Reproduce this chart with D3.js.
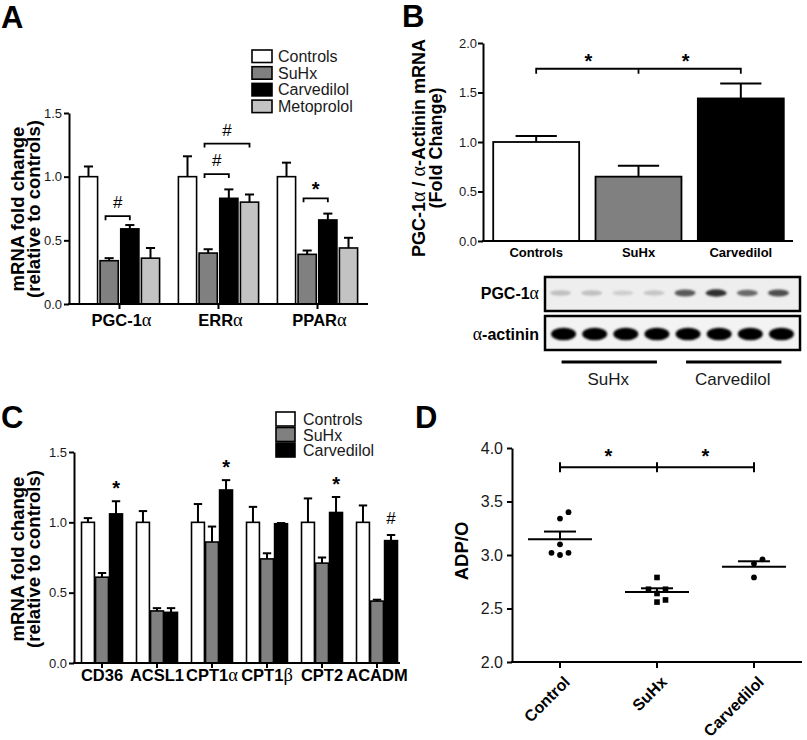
<!DOCTYPE html>
<html><head><meta charset="utf-8">
<script src="https://cdn.jsdelivr.net/npm/d3@7"></script>
<style>
body{margin:0;background:#fff;}
svg{display:block;}
</style></head><body>
<svg id="fig" width="807" height="740"></svg>
<script>
// ---------- Panel A data ----------
const aGenes = ["PGC-1α", "ERRα", "PPARα"];
const aSeries = ["Controls", "SuHx", "Carvedilol", "Metoprolol"];
const aControls = [1.00, 1.00, 1.00];
const aControlsSem = [0.08, 0.16, 0.11];
const aSuHx = [0.34, 0.40, 0.39];
const aSuHxSem = [0.02, 0.03, 0.03];
const aCarvedilol = [0.59, 0.83, 0.66];
const aCarvedilolSem = [0.03, 0.07, 0.05];
const aMetoprolol = [0.36, 0.80, 0.44];
const aMetoprololSem = [0.08, 0.06, 0.08];
const aTicks = [0, 0.5, 1.0, 1.5];
// significance brackets: group, from series, to series, bracket level (value), label
const aSig = [
  {group: "PGC-1α", from: "SuHx", to: "Carvedilol", level: 0.69, label: "#"},
  {group: "ERRα", from: "SuHx", to: "Carvedilol", level: 1.02, label: "#"},
  {group: "ERRα", from: "SuHx", to: "Metoprolol", level: 1.26, label: "#"},
  {group: "PPARα", from: "SuHx", to: "Carvedilol", level: 0.83, label: "*"}
];

// ---------- Panel B data ----------
const bGroups = ["Controls", "SuHx", "Carvedilol"];
const bMean = [1.00, 0.65, 1.44];
const bSem = [0.06, 0.11, 0.15];
const bTicks = [0, 0.5, 1.0, 1.5, 2.0];
const bSigLevel = 1.74;
const bPgcBands = [0.30, 0.30, 0.22, 0.27, 0.75, 0.92, 0.68, 0.80];
const bActininBands = [1, 1, 1, 1, 1, 1, 1, 1];
const bBlotGroups = ["SuHx", "Carvedilol"];

// ---------- Panel C data ----------
const cGenes = ["CD36", "ACSL1", "CPT1α", "CPT1β", "CPT2", "ACADM"];
const cSeries = ["Controls", "SuHx", "Carvedilol"];
const cControls = [1.00, 1.00, 1.00, 1.00, 1.00, 1.00];
const cControlsSem = [0.03, 0.08, 0.13, 0.11, 0.17, 0.12];
const cSuHx = [0.61, 0.37, 0.86, 0.74, 0.71, 0.44];
const cSuHxSem = [0.03, 0.02, 0.11, 0.04, 0.04, 0.01];
const cCarvedilol = [1.06, 0.36, 1.23, 0.99, 1.07, 0.87];
const cCarvedilolSem = [0.09, 0.03, 0.07, 0.005, 0.11, 0.04];
const cSig = ["*", "", "*", "", "*", "#"];
const cTicks = [0, 0.5, 1.0, 1.5];

// ---------- Panel D data ----------
const dGroups = ["Control", "SuHx", "Carvedilol"];
const dControl = [3.40, 3.34, 3.10, 3.02, 3.00, 3.02];
const dSuHx = [2.79, 2.68, 2.68, 2.64, 2.56, 2.58];
const dCarvedilol = [2.96, 2.92, 2.79];
const dTicks = [2.0, 2.5, 3.0, 3.5, 4.0];
const dSigLevel = 3.82;

// ---------- helpers ----------
const FONT = '"Liberation Sans", Arial, Helvetica, sans-serif';
const SERIF = '"Liberation Serif", "Times New Roman", serif';
const svg = d3.select("#fig").style("font-family", FONT);

svg.append("defs").html(
  '<filter id="blurS" x="-50%" y="-50%" width="200%" height="200%"><feGaussianBlur stdDeviation="1.3"/></filter>' +
  '<filter id="blurL" x="-50%" y="-50%" width="200%" height="200%"><feGaussianBlur stdDeviation="0.9"/></filter>');

function greek(sel, text) {
  const parts = text.split(/([αβ])/);
  parts.forEach(p => {
    if (!p) return;
    const t = sel.append("tspan").text(p);
    if (/[αβ]/.test(p)) t.attr("font-family", SERIF).attr("font-weight", "normal").attr("font-size", "1.12em");
  });
  return sel;
}

function yAxis(g, scale, ticks, x, fs, pad) {
  const ax = d3.axisLeft(scale).tickValues(ticks).tickFormat(d3.format(".1f"))
    .tickSize(5).tickSizeOuter(0).tickPadding(pad);
  const a = g.append("g").attr("transform", `translate(${x},0)`).call(ax);
  a.select(".domain").attr("stroke", "#000").attr("stroke-width", 2);
  a.selectAll(".tick line").attr("stroke", "#000").attr("stroke-width", 2);
  a.selectAll(".tick text").attr("fill", "#1a1a1a").style("font-size", fs + "px").style("font-family", FONT);
}

function xAxisLine(g, x0, x1, y, tickXs, tlen) {
  g.append("line").attr("x1", x0 - 1).attr("x2", x1).attr("y1", y).attr("y2", y)
    .attr("stroke", "#000").attr("stroke-width", 2);
  g.selectAll(null).data(tickXs).join("line")
    .attr("x1", d => d).attr("x2", d => d).attr("y1", y).attr("y2", y + tlen)
    .attr("stroke", "#000").attr("stroke-width", 2);
}

function yLabel(g, lines, xs, cy, fs) {
  lines.forEach((t, i) => {
    const txt = g.append("text").attr("transform", `translate(${xs[i]},${cy}) rotate(-90)`)
      .attr("text-anchor", "middle").attr("font-weight", "bold").attr("font-size", fs).attr("fill", "#000");
    greek(txt, t);
  });
}

function groupedBars(g, groups, series, means, sems, colors, x, xin, y, capFrac) {
  series.forEach((s, i) => {
    groups.forEach((grp, j) => {
      const bw = xin.bandwidth();
      const bx = x(grp) + xin(s), cx = bx + bw / 2;
      const top = y(means[i][j]), et = y(means[i][j] + sems[i][j]);
      const cw = bw * capFrac;
      g.append("line").attr("x1", cx).attr("x2", cx).attr("y1", top).attr("y2", et)
        .attr("stroke", "#000").attr("stroke-width", 2);
      g.append("line").attr("x1", cx - cw / 2).attr("x2", cx + cw / 2).attr("y1", et).attr("y2", et)
        .attr("stroke", "#000").attr("stroke-width", 2);
      g.append("rect").attr("x", bx).attr("y", top).attr("width", bw).attr("height", y(0) - top)
        .attr("fill", colors[i]).attr("stroke", "#000").attr("stroke-width", 1.6);
    });
  });
}

function star(g, x, cy, label, fs) {
  const off = label === "*" ? fs * 0.56 : fs * 0.36;
  g.append("text").attr("x", x).attr("y", cy + off).attr("text-anchor", "middle")
    .attr("font-size", fs).attr("font-weight", label === "*" ? "bold" : "normal").attr("fill", "#000").text(label);
}

function panelLetter(t, x, y) {
  svg.append("text").attr("x", x).attr("y", y).attr("font-size", 31).attr("font-weight", "bold").attr("fill", "#000").text(t);
}

// =============== PANEL A ===============
{
  const g = svg.append("g");
  const y = d3.scaleLinear([0, 1.5], [304, 113]);
  const x = d3.scaleBand(aGenes, [69, 368]).paddingInner(0.19).paddingOuter(0.105);
  const xin = d3.scaleBand(aSeries, [0, x.bandwidth()]).paddingInner(0.12);
  const colors = ["#ffffff", "#808080", "#000000", "#c3c3c3"];
  groupedBars(g, aGenes, aSeries,
    [aControls, aSuHx, aCarvedilol, aMetoprolol],
    [aControlsSem, aSuHxSem, aCarvedilolSem, aMetoprololSem], colors, x, xin, y, 0.5);
  yAxis(g, y, aTicks, 69, 13, 2);
  xAxisLine(g, 69, 368, 304, aGenes.map(d => x(d) + x.bandwidth() / 2), 5);
  aGenes.forEach(d => {
    greek(g.append("text").attr("x", x(d) + x.bandwidth() / 2 + 2).attr("y", 326).attr("text-anchor", "middle")
      .attr("font-size", 16.5).attr("font-weight", "bold").attr("fill", "#000"), d);
  });
  yLabel(g, ["mRNA fold change", "(relative to controls)"], [24, 40], 209, 18.5);
  aSig.forEach(s => {
    const x1 = x(s.group) + xin(s.from) + xin.bandwidth() * 0.3;
    const x2 = x(s.group) + xin(s.to) + xin.bandwidth() * 0.5;
    const yy = y(s.level);
    g.append("path").attr("d", `M${x1},${yy + 4}V${yy}H${x2}V${yy + 4}`)
      .attr("fill", "none").attr("stroke", "#000").attr("stroke-width", 1.8);
    star(g, (x1 + x2) / 2, yy - 14, s.label, s.label === "*" ? 20 : 17);
  });
  const lg = g.append("g");
  aSeries.forEach((s, i) => {
    const ly = 50 + i * 16.7;
    lg.append("rect").attr("x", 252).attr("y", ly).attr("width", 20).attr("height", 12.5)
      .attr("fill", colors[i]).attr("stroke", "#000").attr("stroke-width", 1.6);
    lg.append("text").attr("x", 278).attr("y", ly + 12).attr("font-size", 16).attr("fill", "#1a1a1a").text(s);
  });
  panelLetter("A", 1, 28);
}

// =============== PANEL B ===============
{
  const g = svg.append("g");
  const y = d3.scaleLinear([0, 2], [241, 43]);
  const x = d3.scaleBand(bGroups, [484, 793]).paddingInner(0.16).paddingOuter(0.09);
  const colors = ["#ffffff", "#808080", "#000000"];
  bGroups.forEach((grp, j) => {
    const bx = x(grp), bw = x.bandwidth(), cx = bx + bw / 2;
    const top = y(bMean[j]), et = y(bMean[j] + bSem[j]);
    g.append("line").attr("x1", cx).attr("x2", cx).attr("y1", top).attr("y2", et).attr("stroke", "#000").attr("stroke-width", 2);
    g.append("line").attr("x1", cx - bw * 0.24).attr("x2", cx + bw * 0.24).attr("y1", et).attr("y2", et).attr("stroke", "#000").attr("stroke-width", 2);
    g.append("rect").attr("x", bx).attr("y", top).attr("width", bw).attr("height", y(0) - top)
      .attr("fill", colors[j]).attr("stroke", "#000").attr("stroke-width", 1.8);
    g.append("text").attr("x", cx).attr("y", 257).attr("text-anchor", "middle").attr("font-size", 13)
      .attr("font-weight", "bold").attr("fill", "#000").text(grp);
  });
  yAxis(g, y, bTicks, 483, 13, 1);
  xAxisLine(g, 483, 793, 241, [], 0);
  yLabel(g, ["PGC-1α / α-Actinin mRNA", "(Fold Change)"], [425, 442], 148, 18);
  const cxs = bGroups.map(d => x(d) + x.bandwidth() / 2);
  const yy = y(bSigLevel);
  g.append("path").attr("d", `M${cxs[0]},${yy + 5}V${yy}H${cxs[2]}V${yy + 5}M${cxs[1]},${yy}V${yy + 5}`)
    .attr("fill", "none").attr("stroke", "#000").attr("stroke-width", 1.8);
  star(g, (cxs[0] + cxs[1]) / 2 + 1, yy - 12, "*", 20);
  star(g, (cxs[1] + cxs[2]) / 2 - 4, yy - 12, "*", 20);

  // blot
  const lanes = d3.scaleBand(d3.range(8), [548, 797]).paddingInner(0.2).paddingOuter(0.1);
  const bl = svg.append("g");
  bl.append("rect").attr("x", 545).attr("y", 277).attr("width", 255).attr("height", 34)
    .attr("fill", "#eeeeee").attr("stroke", "#000").attr("stroke-width", 2.5);
  bl.append("rect").attr("x", 545).attr("y", 316).attr("width", 255).attr("height", 34)
    .attr("fill", "#f3f3f3").attr("stroke", "#000").attr("stroke-width", 2.5);
  const pgcG = bl.append("g").attr("filter", "url(#blurS)");
  pgcG.selectAll("ellipse").data(bPgcBands).join("ellipse")
    .attr("cx", (d, i) => lanes(i) + lanes.bandwidth() / 2 - 3).attr("cy", 293)
    .attr("rx", 10.5).attr("ry", (d) => 2.2 + d * 1.6)
    .attr("fill", d => d3.interpolateGreys(0.12 + d * 0.8));
  const actG = bl.append("g").attr("filter", "url(#blurL)");
  actG.selectAll("ellipse").data(bActininBands).join("ellipse")
    .attr("cx", (d, i) => lanes(i) + lanes.bandwidth() / 2).attr("cy", 334)
    .attr("rx", 12.5).attr("ry", 6.3)
    .attr("fill", d => d3.interpolateGreys(0.92 * d + 0.08));
  greek(bl.append("text").attr("x", 539).attr("y", 299).attr("text-anchor", "end").attr("font-size", 16)
    .attr("font-weight", "bold").attr("fill", "#000"), "PGC-1α");
  greek(bl.append("text").attr("x", 539).attr("y", 340).attr("text-anchor", "end").attr("font-size", 16)
    .attr("font-weight", "bold").attr("fill", "#000"), "α-actinin");
  bBlotGroups.forEach((gname, k) => {
    const first = lanes(k * 4) + lanes.bandwidth() / 2;
    const last = lanes(k * 4 + 3) + lanes.bandwidth() / 2;
    bl.append("line").attr("x1", first - 2).attr("x2", last).attr("y1", 362).attr("y2", 362)
      .attr("stroke", "#000").attr("stroke-width", 3);
    bl.append("text").attr("x", (first + last) / 2 - 2).attr("y", 385).attr("text-anchor", "middle")
      .attr("font-size", 17).attr("fill", "#1a1a1a").text(gname);
  });
  panelLetter("B", 402, 27);
}

// =============== PANEL C ===============
{
  const g = svg.append("g");
  const y = d3.scaleLinear([0, 1.5], [663, 452]);
  const x = d3.scaleBand(cGenes, [77, 402]).paddingInner(0.255).paddingOuter(0.082);
  const xin = d3.scaleBand(cSeries, [0, x.bandwidth()]).paddingInner(0.08);
  const colors = ["#ffffff", "#808080", "#000000"];
  groupedBars(g, cGenes, cSeries, [cControls, cSuHx, cCarvedilol],
    [cControlsSem, cSuHxSem, cCarvedilolSem], colors, x, xin, y, 0.65);
  yAxis(g, y, cTicks, 74, 13, 2);
  xAxisLine(g, 74, 400, 663, cGenes.map(d => x(d) + x.bandwidth() / 2), 5);
  cGenes.forEach(d => {
    greek(g.append("text").attr("x", x(d) + x.bandwidth() / 2).attr("y", 681).attr("text-anchor", "middle")
      .attr("font-size", 16.5).attr("font-weight", "bold").attr("fill", "#000"), d);
  });
  cSig.forEach((s, j) => {
    if (!s) return;
    const cx = x(cGenes[j]) + xin("Carvedilol") + xin.bandwidth() / 2;
    star(g, cx, y(cCarvedilol[j] + cCarvedilolSem[j]) - 17, s, s === "*" ? 20 : 17);
  });
  yLabel(g, ["mRNA fold change", "(relative to controls)"], [24, 40], 559, 18.5);
  const lg = g.append("g");
  cSeries.forEach((s, i) => {
    const ly = 412 + i * 15.5;
    lg.append("rect").attr("x", 276).attr("y", ly).attr("width", 19).attr("height", 14)
      .attr("fill", colors[i]).attr("stroke", "#000").attr("stroke-width", 1.6);
    lg.append("text").attr("x", 303).attr("y", ly + 13).attr("font-size", 16).attr("fill", "#1a1a1a").text(s);
  });
  panelLetter("C", 1, 428);
}

// =============== PANEL D ===============
{
  const g = svg.append("g");
  const y = d3.scaleLinear([2, 4], [662, 448]);
  const x = d3.scalePoint(dGroups, [560, 754]);
  yAxis(g, y, dTicks, 512, 16, 4);
  xAxisLine(g, 512, 802, 662, dGroups.map(d => x(d)), 6);
  dGroups.forEach(d => {
    g.append("text").attr("transform", `translate(${x(d) + 11},${683}) rotate(-45)`)
      .attr("text-anchor", "end").attr("font-size", 16).attr("font-weight", "bold").attr("fill", "#000").text(d);
  });
  yLabel(g, ["ADP/O"], [468], 551, 18.5);
  const sets = [dControl, dSuHx, dCarvedilol];
  const lanePx = 8.5, minDist = 8;
  sets.forEach((vals, k) => {
    const cx = x(dGroups[k]);
    // simple beeswarm: ascending order, try centre then right then left
    const placed = [];
    vals.slice().sort((a, b) => a - b).forEach(v => {
      const py = y(v);
      for (const o of [0, 1, -1, 2, -2]) {
        const px = cx + o * lanePx;
        if (placed.every(p => Math.hypot(p.x - px, p.y - py) >= minDist)) { placed.push({x: px, y: py}); break; }
      }
    });
    if (k === 1) {
      g.selectAll(null).data(placed).join("rect").attr("x", p => p.x - 2.8).attr("y", p => p.y - 2.8)
        .attr("width", 5.6).attr("height", 5.6).attr("fill", "#000");
    } else {
      g.selectAll(null).data(placed).join("circle").attr("cx", p => p.x).attr("cy", p => p.y)
        .attr("r", 2.9).attr("fill", "#000");
    }
    const mean = d3.mean(vals), sem = d3.deviation(vals) / Math.sqrt(vals.length);
    g.append("line").attr("x1", cx - 32).attr("x2", cx + 32).attr("y1", y(mean)).attr("y2", y(mean))
      .attr("stroke", "#000").attr("stroke-width", 2);
    g.append("line").attr("x1", cx).attr("x2", cx).attr("y1", y(mean)).attr("y2", y(mean + sem))
      .attr("stroke", "#000").attr("stroke-width", 2);
    g.append("line").attr("x1", cx - 16).attr("x2", cx + 16).attr("y1", y(mean + sem)).attr("y2", y(mean + sem))
      .attr("stroke", "#000").attr("stroke-width", 2);
  });
  const yy = y(dSigLevel);
  const cxs = dGroups.map(d => x(d));
  g.append("path").attr("d", `M${cxs[0]},${yy}H${cxs[2]}` + cxs.map(c => `M${c},${yy - 5}V${yy + 5}`).join(""))
    .attr("fill", "none").attr("stroke", "#000").attr("stroke-width", 2);
  star(g, (cxs[0] + cxs[1]) / 2, yy - 15, "*", 20);
  star(g, (cxs[1] + cxs[2]) / 2, yy - 15, "*", 20);
  panelLetter("D", 415, 428);
}
</script>
</body></html>
